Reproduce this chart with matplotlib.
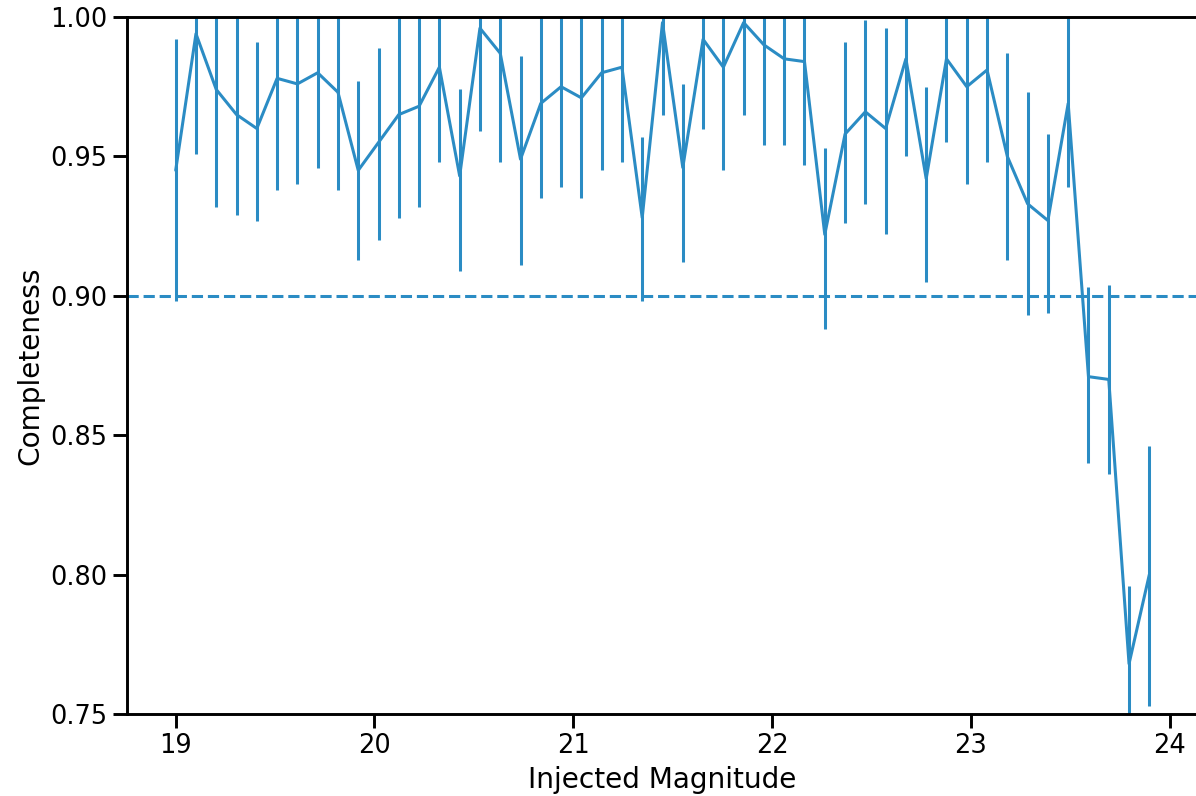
import numpy as np
import matplotlib.pyplot as plt
import seaborn as sns

sns.set_theme(style="ticks", context="talk")
plt.rcParams['font.family'] = ['DejaVu Sans']
plt.rcParams.update({
    "axes.edgecolor": "black",
    "axes.labelcolor": "black",
    "text.color": "black",
    "xtick.color": "black",
    "ytick.color": "black",
    "lines.linewidth": 1.95,
})

# bins of injected magnitude (left edges)
mag = np.linspace(19, 24, 50)[:-1]

completeness = [0.945, 0.994, 0.974, 0.965, 0.960, 0.978, 0.976, 0.980, 0.973, 0.945,
                0.955, 0.965, 0.968, 0.982, 0.943, 0.996, 0.987, 0.949, 0.969, 0.975,
                0.971, 0.980, 0.982, 0.928, 0.998, 0.946, 0.992, 0.982, 0.998, 0.990,
                0.985, 0.984, 0.922, 0.958, 0.966, 0.960, 0.985, 0.942, 0.985, 0.975,
                0.981, 0.950, 0.933, 0.927, 0.969, 0.871, 0.870, 0.768, 0.800]
err_lo = [0.047, 0.043, 0.042, 0.036, 0.033, 0.040, 0.036, 0.034, 0.035, 0.032,
          0.035, 0.037, 0.036, 0.034, 0.034, 0.037, 0.039, 0.038, 0.034, 0.036,
          0.036, 0.035, 0.034, 0.030, 0.033, 0.034, 0.032, 0.037, 0.033, 0.036,
          0.031, 0.037, 0.034, 0.032, 0.033, 0.038, 0.035, 0.037, 0.030, 0.035,
          0.033, 0.037, 0.040, 0.033, 0.030, 0.031, 0.034, 0.028, 0.047]
err_hi = [0.047, 0.043, 0.042, 0.036, 0.031, 0.040, 0.036, 0.034, 0.035, 0.032,
          0.034, 0.037, 0.036, 0.034, 0.031, 0.037, 0.039, 0.037, 0.034, 0.036,
          0.036, 0.035, 0.034, 0.029, 0.033, 0.030, 0.032, 0.037, 0.033, 0.036,
          0.031, 0.037, 0.031, 0.033, 0.033, 0.036, 0.035, 0.033, 0.030, 0.035,
          0.033, 0.037, 0.040, 0.031, 0.035, 0.032, 0.034, 0.028, 0.046]

color = "#2b8cc4"
dpi = 112
fig = plt.figure(figsize=(1196 / dpi, 796 / dpi), dpi=dpi)
ax = fig.add_axes([127 / 1196, 82 / 796, 1071 / 1196, 697 / 796])

ax.errorbar(mag, completeness, yerr=[err_lo, err_hi], color=color)
ax.axhline(0.9, color=color, linestyle="--")

ax.set_ylim(0.75, 1.0)
ax.set_xlabel("Injected Magnitude")
ax.set_ylabel("Completeness")

fig.savefig("out.png", dpi=dpi)
